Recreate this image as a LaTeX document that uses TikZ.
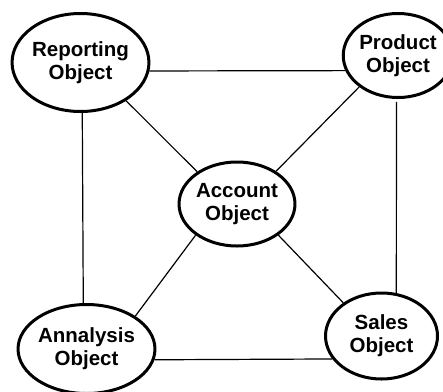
\documentclass[tikz,border=0pt]{standalone}
\usepackage{fontspec}
\setmainfont{Liberation Sans}
\usetikzlibrary{shapes.geometric}
\begin{document}
\begin{tikzpicture}[x=1pt,y=-1pt,
  obj/.style={ellipse,draw,line width=3pt,inner sep=0pt,align=center,
    font=\fontsize{20.5}{23}\selectfont\bfseries},
  link/.style={line width=1.2pt}]
\useasboundingbox (0,0) rectangle (443,391);
\clip (0,0) rectangle (443,391);
\node[obj,minimum width=128pt,minimum height=98pt] (rep) at (80.5,62.5) {Reporting\\Object};
\node[obj,minimum width=109pt,minimum height=84pt] (prod) at (398,55.5) {Product\\Object};
\node[obj,minimum width=107pt,minimum height=84pt] (acc) at (237,204) {Account\\Object};
\node[obj,minimum width=116pt,minimum height=89pt] (ann) at (86.5,349) {Annalysis\\Object};
\node[obj,minimum width=112pt,minimum height=86pt] (sales) at (381.5,336) {Sales\\Object};
\draw[link] (rep.-7.4) -- (prod.196.7);
\draw[link] (rep.-88) -- (ann.94.7);
\draw[link,shorten <=3pt] (prod.-92) -- (sales.71);
\draw[link] (ann.-9) -- (sales.205.3);
\draw[link] (rep.-40.3) -- (acc.141.5);
\draw[link] (prod.219.9) -- (acc.40.2);
\draw[link] (acc.217.8) -- (ann.34.3);
\draw[link] (acc.-37.8) -- (sales.139);
\end{tikzpicture}
\end{document}
